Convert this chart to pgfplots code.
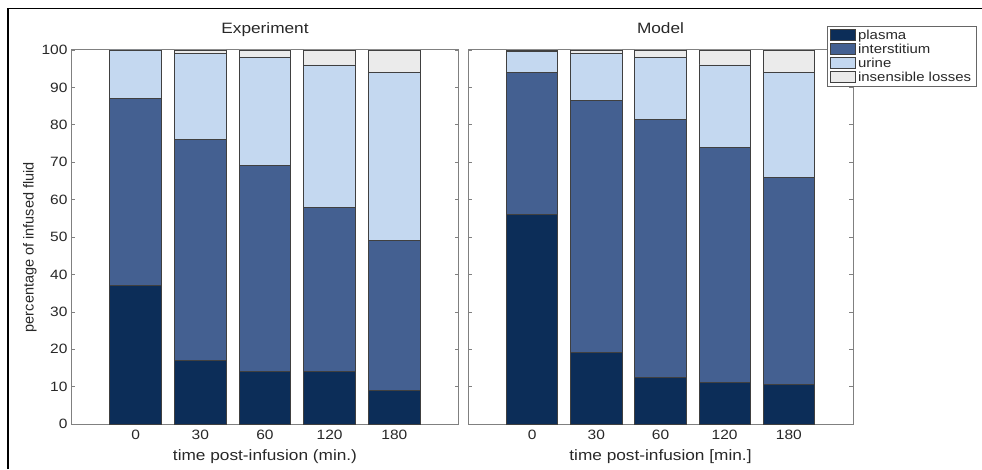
\documentclass[border=0pt]{standalone}
\usepackage{fontspec}
\setmainfont[FakeStretch=1.15]{Liberation Sans}
\newfontfamily\ylfont{Liberation Sans}
\usepackage{pgfplots}
\pgfplotsset{compat=1.18}
\definecolor{cplasma}{RGB}{12,45,88}
\definecolor{cinter}{RGB}{68,96,145}
\definecolor{curine}{RGB}{196,216,240}
\definecolor{cins}{RGB}{235,235,235}
\definecolor{ctext}{RGB}{40,40,40}
\pgfplotsset{
  panel/.style={
    scale only axis,
    width=388pt, height=374pt,
    anchor=south west,
    ybar stacked,
    bar width=0.8,
    xmin=0, xmax=6, ymin=0, ymax=100,
    xtick={1,2,3,4,5},
    xticklabels={0,30,60,120,180},
    ytick={0,10,...,100},
    tick align=inside,
    major tick length=4pt,
    tick style={black!50, line width=0.6pt},
    axis line style={black!50, line width=1pt},
    xtick pos=both, ytick pos=both,
    tick label style={font=\fontsize{13.5}{14}\selectfont, text=ctext},
    /pgf/number format/assume math mode=true,
    xticklabel style={yshift=-3pt},
    title style={font=\fontsize{15}{16}\selectfont, text=ctext, at={(axis description cs:0.5,1)}, anchor=base, yshift=10pt},
    xlabel style={font=\fontsize{15}{16}\selectfont, text=ctext, at={(axis description cs:0.5,0)}, anchor=base, yshift=-36pt},
    every axis plot/.append style={draw=black!75, line width=0.9pt},
  },
}
\begin{document}
\begin{tikzpicture}[x=1pt,y=1pt]
\useasboundingbox (0,0) rectangle (982,469);
\draw[line width=1.5pt, black] (8,0) -- (8,460.5) -- (982,460.5);
% Experiment
\begin{axis}[panel, at={(71pt,45pt)},
  title={Experiment},
  xlabel={time post-infusion (min.)},
  ylabel={\ylfont\fontsize{14.5}{15}\selectfont percentage of infused fluid},
  ylabel style={text=ctext, at={(axis description cs:-0.1057,0.473)}, anchor=center},
]
\addplot[fill=cplasma] coordinates {(1,37) (2,17) (3,14) (4,14) (5,9)};
\addplot[fill=cinter] coordinates {(1,50) (2,59) (3,55) (4,44) (5,40)};
\addplot[fill=curine] coordinates {(1,13) (2,23) (3,29) (4,38) (5,45)};
\addplot[fill=cins] coordinates {(1,0) (2,1) (3,2) (4,4) (5,6)};
\end{axis}
% Model
\begin{axis}[panel, at={(468pt,45pt)}, width=385pt,
  title={Model},
  xlabel={time post-infusion [min.]},
  yticklabels={},
]
\addplot[fill=cplasma] coordinates {(1,56) (2,19) (3,12.5) (4,11) (5,10.5)};
\addplot[fill=cinter] coordinates {(1,38) (2,67.5) (3,69) (4,63) (5,55.5)};
\addplot[fill=curine] coordinates {(1,5.7) (2,12.5) (3,16.5) (4,22) (5,28)};
\addplot[fill=cins] coordinates {(1,0.3) (2,1) (3,2) (4,4) (5,6)};
\end{axis}
% Legend
\begin{axis}[hide axis, scale only axis, width=1pt, height=1pt,
  at={(827pt,443pt)}, anchor=north west,
  xmin=0, xmax=1, ymin=0, ymax=1,
  legend image code/.code={\draw[#1, draw=black!75, line width=0.7pt] (0pt,-5pt) rectangle (25pt,6pt);},
  legend style={at={(axis description cs:0,1)}, anchor=north west,
    draw=black!60, line width=0.8pt, inner xsep=3pt, inner ysep=1.5pt,
    font=\fontsize{13}{13}\selectfont, text=ctext, row sep=-1pt,
    cells={anchor=west}, fill=white},
]
\addlegendimage{fill=cplasma}\addlegendentry{plasma}
\addlegendimage{fill=cinter}\addlegendentry{interstitium}
\addlegendimage{fill=curine}\addlegendentry{urine}
\addlegendimage{fill=cins}\addlegendentry{insensible losses}
\end{axis}
\end{tikzpicture}
\end{document}
